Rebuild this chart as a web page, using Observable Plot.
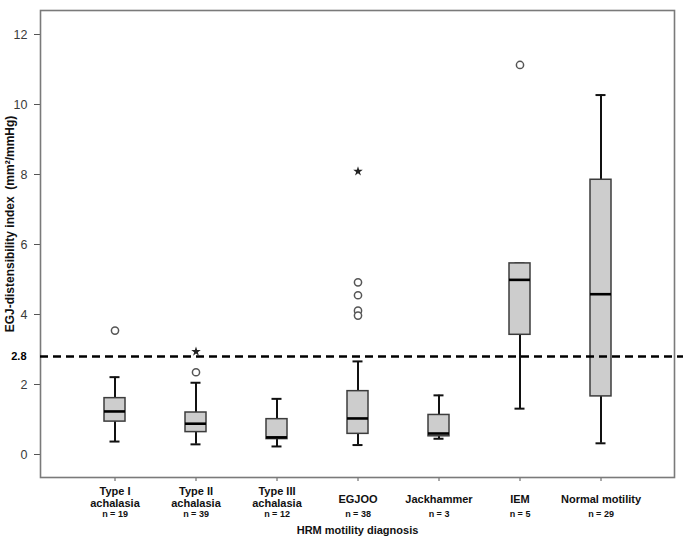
<!DOCTYPE html>
<html>
<head>
<meta charset="utf-8">
<script src="https://cdn.jsdelivr.net/npm/d3@7"></script>
<script src="https://cdn.jsdelivr.net/npm/@observablehq/plot@0.6"></script>
<style>
  html, body { margin: 0; padding: 0; background: #fff; }
  #chart { width: 685px; height: 539px; }
</style>
</head>
<body>
<div id="chart"></div>
<script>
// ---- Data ----
const categories = ["Type I achalasia", "Type II achalasia", "Type III achalasia", "EGJOO", "Jackhammer", "IEM", "Normal motility"];
const labelLine1 = ["Type I", "Type II", "Type III", "EGJOO", "Jackhammer", "IEM", "Normal motility"];
const labelLine2 = ["achalasia", "achalasia", "achalasia", "", "", "", ""];
const nCounts = [19, 39, 12, 38, 3, 5, 29];

const whiskerLow  = [0.37, 0.29, 0.23, 0.27, 0.45, 1.31, 0.32];
const q1          = [0.94, 0.64, 0.44, 0.59, 0.52, 3.42, 1.66];
const median      = [1.23, 0.88, 0.49, 1.03, 0.60, 4.99, 4.58];
const q3          = [1.61, 1.20, 1.01, 1.81, 1.13, 5.46, 7.85];
const whiskerHigh = [2.21, 2.05, 1.59, 2.66, 1.69, 5.46, 10.27];

const outlierCategory = ["Type I achalasia", "Type II achalasia", "Type II achalasia", "EGJOO", "EGJOO", "EGJOO", "EGJOO", "EGJOO", "IEM"];
const outlierValue    = [3.54, 2.35, 2.94, 8.09, 4.92, 4.55, 4.11, 3.97, 11.13];
const outlierKind     = ["circle", "circle", "star", "star", "circle", "circle", "circle", "circle", "circle"];

const yTicks = [0, 2, 4, 6, 8, 10, 12];
const cutoff = 2.8;

// ---- Tables built from the arrays ----
const boxes = categories.map((c, i) => ({
  cat: c, lo: whiskerLow[i], q1: q1[i], med: median[i], q3: q3[i], hi: whiskerHigh[i],
  l1: labelLine1[i], l2: labelLine2[i], n: nCounts[i]
}));
const outliers = outlierValue.map((v, i) => ({cat: outlierCategory[i], v, kind: outlierKind[i]}));
const circles = outliers.filter(d => d.kind === "circle");
const stars = outliers.filter(d => d.kind === "star");
const twoLine = boxes.filter(d => d.l2 !== "");
const oneLine = boxes.filter(d => d.l2 === "");

const font = "'Liberation Sans', Arial, sans-serif";

const chart = Plot.plot({
  width: 685,
  height: 539,
  marginLeft: 40,
  marginRight: 11,
  marginTop: 10,
  marginBottom: 62,
  style: {fontFamily: font, fontSize: "12.5px", color: "#444", background: "white"},
  x: {
    domain: categories,
    paddingInner: 0.742,
    paddingOuter: 0.771,
    tickSize: 4,
    tickFormat: () => "",
    label: null
  },
  y: {
    domain: [-0.657, 12.686],
    ticks: yTicks,
    tickSize: 6,
    tickPadding: 7,
    label: null
  },
  marks: [
    Plot.frame({stroke: "#7a7a7a", strokeWidth: 1.6}),
    // whiskers
    Plot.ruleX(boxes, {x: "cat", y1: "lo", y2: "q1", stroke: "#111", strokeWidth: 2}),
    Plot.ruleX(boxes, {x: "cat", y1: "q3", y2: "hi", stroke: "#111", strokeWidth: 2}),
    Plot.tickY(boxes, {x: "cat", y: "lo", stroke: "#111", strokeWidth: 2, insetLeft: 5.5, insetRight: 5.5}),
    Plot.tickY(boxes, {x: "cat", y: "hi", stroke: "#111", strokeWidth: 2, insetLeft: 5.5, insetRight: 5.5}),
    // boxes
    Plot.barY(boxes, {x: "cat", y1: "q1", y2: "q3", fill: "#cdcdcd", stroke: "#3c3c3c", strokeWidth: 1.5}),
    // medians
    Plot.tickY(boxes, {x: "cat", y: "med", stroke: "#000", strokeWidth: 2.6}),
    // cutoff line
    Plot.ruleY([cutoff], {stroke: "#000", strokeWidth: 2.4, strokeDasharray: "8,5", insetRight: -9}),
    Plot.text([cutoff], {y: d => d, text: d => String(d), frameAnchor: "left", dx: -14, textAnchor: "end", fontWeight: "bold", fontSize: 11, fill: "#000"}),
    // outliers
    Plot.dot(circles, {x: "cat", y: "v", r: 3.6, stroke: "#555", strokeWidth: 1.5, fill: "white"}),
    Plot.dot(stars, {x: "cat", y: "v", symbol: "star", r: 3, fill: "#222", stroke: "none"}),
    // x tick labels
    Plot.text(twoLine, {x: "cat", text: "l1", frameAnchor: "bottom", dy: 14, lineAnchor: "middle", fontWeight: "bold", fontSize: 11, fill: "#111"}),
    Plot.text(twoLine, {x: "cat", text: "l2", frameAnchor: "bottom", dy: 26, lineAnchor: "middle", fontWeight: "bold", fontSize: 11, fill: "#111"}),
    Plot.text(oneLine, {x: "cat", text: "l1", frameAnchor: "bottom", dy: 22, lineAnchor: "middle", fontWeight: "bold", fontSize: 11, fill: "#111"}),
    Plot.text(boxes, {x: "cat", text: d => "n = " + d.n, frameAnchor: "bottom", dy: 37, lineAnchor: "middle", fontWeight: "bold", fontSize: 9, fill: "#111"}),
    Plot.text(["HRM motility diagnosis"], {text: d => d, frameAnchor: "bottom", dy: 53, lineAnchor: "middle", fontWeight: "bold", fontSize: 11, fill: "#111"})
  ]
});

// Y-axis title
const svg = d3.select(chart);
svg.append("text")
  .attr("transform", "translate(11,224) rotate(-90)")
  .attr("text-anchor", "middle")
  .attr("dominant-baseline", "middle")
  .attr("font-family", font)
  .attr("font-weight", "bold")
  .attr("font-size", 12)
  .attr("fill", "#111")
  .text("EGJ-distensibility index  (mm²/mmHg)");

svg.selectAll("[aria-label='y-axis tick'] path, [aria-label='x-axis tick'] path").attr("stroke", "#555");
svg.selectAll("[aria-label='y-axis tick label'] text, [aria-label='y-axis tick label']").attr("fill", "#3a3a3a");

document.getElementById("chart").appendChild(chart);
</script>
</body>
</html>
